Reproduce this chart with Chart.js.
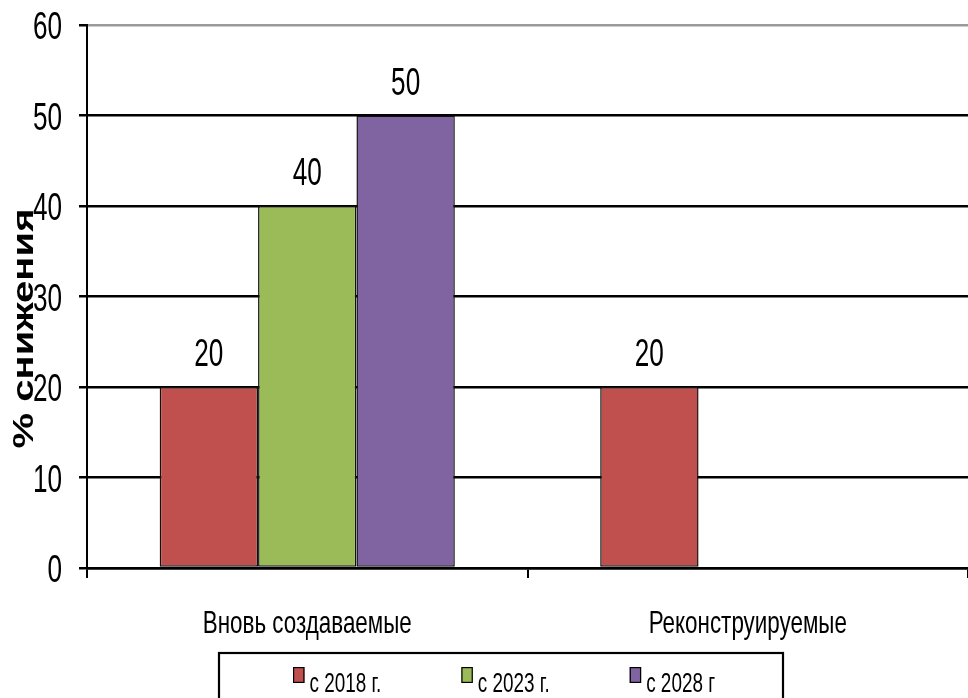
<!DOCTYPE html>
<html>
<head>
<meta charset="utf-8">
<script src="https://cdn.jsdelivr.net/npm/chart.js@4.4.0/dist/chart.umd.min.js"></script>
<style>
  html, body { margin: 0; padding: 0; background: #fff; }
  #wrap { width: 968px; height: 698px; overflow: hidden; }
</style>
</head>
<body>
<div id="wrap"><canvas id="chart" width="968" height="698"></canvas></div>
<script>
// ---- data ----
const categories = ['Вновь создаваемые', 'Реконструируемые'];
const seriesNames = ['с 2018 г.', 'с 2023 г.', 'с 2028 г'];
const from2018 = [20, 20];
const from2023 = [40, null];
const from2028 = [50, null];
const yTicks = [0, 10, 20, 30, 40, 50, 60];
const axisTitle = '% снижения';

// ---- styles ----
const seriesColors = ['#C0504D', '#9BBB59', '#8064A2'];
const REGULAR = '"Liberation Sans", Arial, sans-serif';
const SQUEEZE = 0.67;          // tall, condensed lettering

Chart.defaults.color = '#000';

const yMin = yTicks[0];
const yMax = yTicks[yTicks.length - 1];
const yStep = yTicks[1] - yTicks[0];

// draws text compressed horizontally
function tallText(ctx, text, x, y, size, align, squeeze) {
  ctx.save();
  ctx.font = `${size}px ${REGULAR}`;
  ctx.fillStyle = '#000';
  ctx.textAlign = align;
  ctx.textBaseline = 'alphabetic';
  ctx.translate(x, y);
  ctx.scale(squeeze || SQUEEZE, 1);
  ctx.fillText(text, 0, 0);
  ctx.restore();
}

// tick labels of both axes
const axisLabels = {
  id: 'axisLabels',
  afterDraw(chart) {
    const ctx = chart.ctx;
    const ys = chart.scales.y;
    yTicks.forEach(v => {
      tallText(ctx, String(v), 62, ys.getPixelForValue(v) + 14, 39, 'right');
    });
    const xs = chart.scales.x;
    categories.forEach((c, i) => {
      tallText(ctx, c, xs.getPixelForValue(i), 633, 32, 'center', 0.7);
    });
  }
};

// value printed above every bar
const valueLabels = {
  id: 'valueLabels',
  afterDatasetsDraw(chart) {
    const ctx = chart.ctx;
    chart.data.datasets.forEach((ds, di) => {
      const meta = chart.getDatasetMeta(di);
      meta.data.forEach((bar, i) => {
        const v = ds.data[i];
        if (v === null || v === undefined) return;
        tallText(ctx, String(v), bar.x, bar.y - 21, 39, 'center');
      });
    });
  }
};

// rotated y-axis title and the boxed legend under the axis
const decorations = {
  id: 'decorations',
  afterDraw(chart) {
    const ctx = chart.ctx;
    ctx.save();
    ctx.translate(33, 328.5);
    ctx.rotate(-Math.PI / 2);
    ctx.scale(1.38, 1);
    ctx.font = `bold 29px ${REGULAR}`;
    ctx.fillStyle = '#000';
    ctx.textAlign = 'center';
    ctx.textBaseline = 'alphabetic';
    ctx.fillText(axisTitle, 0, 0);
    ctx.restore();

    const box = { left: 219, top: 653, right: 783 };
    ctx.save();
    ctx.strokeStyle = '#000';
    ctx.lineWidth = 2.2;
    ctx.strokeRect(box.left, box.top, box.right - box.left, 120);

    const size = 27, sq = 0.7;
    ctx.font = `${size}px ${REGULAR}`;
    const sw = 11.5, sh = 16, gapText = 5, gapItem = 80;
    const items = chart.data.datasets.map(ds => ({
      text: ds.label, color: ds.backgroundColor, w: ctx.measureText(ds.label).width * sq
    }));
    let x = 293;
    items.forEach(it => {
      ctx.fillStyle = it.color;
      ctx.fillRect(x, 667, sw, sh);
      ctx.lineWidth = 1.2;
      ctx.strokeStyle = '#000';
      ctx.strokeRect(x + 0.6, 667.6, sw - 1.2, sh - 1.2);
      tallText(ctx, it.text, x + sw + gapText, 692, size, 'left', sq);
      x += sw + gapText + it.w + gapItem;
    });
    ctx.restore();
  }
};

const seriesData = [from2018, from2023, from2028];

new Chart(document.getElementById('chart'), {
  type: 'bar',
  data: {
    labels: categories,
    datasets: seriesNames.map((name, i) => ({
      label: name,
      data: seriesData[i],
      backgroundColor: seriesColors[i],
      borderColor: '#111',
      borderWidth: 1.5,
      borderSkipped: false,
      categoryPercentage: 0.67,
      barPercentage: 1.0
    }))
  },
  options: {
    responsive: false,
    animation: false,
    layout: { padding: { top: 25, left: 0, right: 0, bottom: 0 } },
    plugins: {
      legend: { display: false },
      tooltip: { enabled: false }
    },
    scales: {
      x: {
        grid: {
          drawOnChartArea: false,
          drawTicks: true,
          tickLength: 10,
          color: '#000',
          lineWidth: 2
        },
        border: { color: '#000', width: 2.5 },
        ticks: { font: { size: 8 }, color: 'rgba(0,0,0,0)', maxRotation: 0 },
        afterFit(scale) { scale.height = 130; }
      },
      y: {
        min: yMin,
        max: yMax,
        ticks: { stepSize: yStep, font: { size: 8 }, color: 'rgba(0,0,0,0)' },
        grid: {
          color: c => (c.tick && c.tick.value === yMax) ? '#9a9a9a' : '#000',
          tickColor: '#000',
          lineWidth: 2.5,
          tickLength: 8
        },
        border: { color: '#000', width: 2 },
        afterFit(scale) { scale.width = 87; }
      }
    }
  },
  plugins: [valueLabels, axisLabels, decorations]
});
</script>
</body>
</html>
